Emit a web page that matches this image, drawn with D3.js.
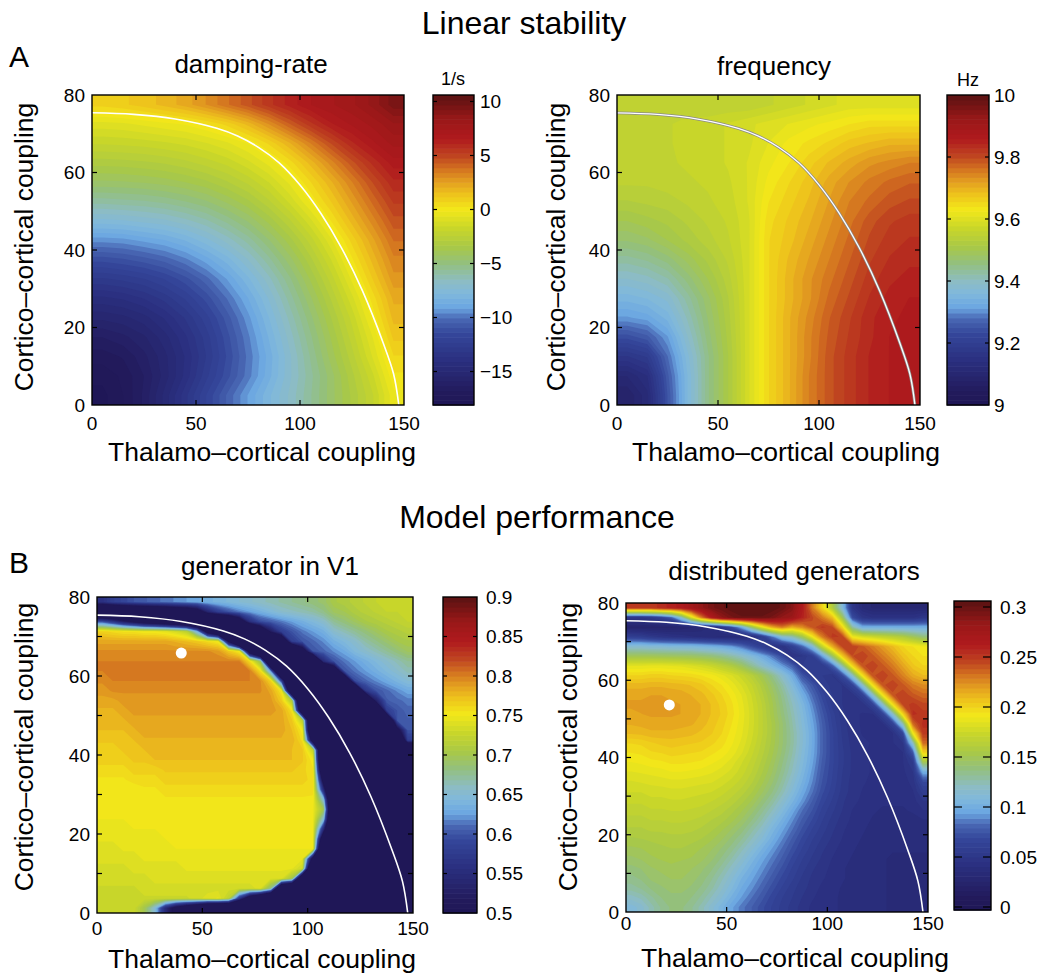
<!DOCTYPE html>
<html>
<head>
<meta charset="utf-8">
<title>Linear stability / Model performance</title>
<script src="https://cdn.jsdelivr.net/npm/d3@7/dist/d3.min.js"></script>
<style>
body { margin: 0; background: #fff; }
svg text { font-family: "Liberation Sans", Arial, Helvetica, sans-serif; fill: #000; }
</style>
</head>
<body>
<script>

// grid cell centres, thalamo-cortical (x) and cortico-cortical (y, top row first)
var thalamoCentres = [5, 15, 25, 35, 45, 55, 65, 75, 85, 95, 105, 115, 125, 135, 145];
var thalamoCentresFine = [2.5, 7.5, 12.5, 17.5, 22.5, 27.5, 32.5, 37.5, 42.5, 47.5, 52.5, 57.5, 62.5, 67.5, 72.5,
                          77.5, 82.5, 87.5, 92.5, 97.5, 102.5, 107.5, 112.5, 117.5, 122.5, 127.5, 132.5, 137.5, 142.5, 147.5];
var corticoCentresA = [77.5, 72.5, 67.5, 62.5, 57.5, 52.5, 47.5, 42.5, 37.5, 32.5, 27.5, 22.5, 17.5, 12.5, 7.5, 2.5];
var corticoCentresB = [78.75, 76.25, 73.75, 71.25, 68.75, 66.25, 63.75, 61.25, 58.75, 56.25, 53.75, 51.25,
                       48.75, 46.25, 43.75, 41.25, 38.75, 36.25, 33.75, 31.25, 28.75, 26.25, 23.75, 21.25,
                       18.75, 16.25, 13.75, 11.25, 8.75, 6.25, 3.75, 1.25];

// damping rate (1/s)
var dampingRate = [
  [0.9, 1.1, 1.4, 1.8, 2.3, 3.0, 3.8, 4.6, 5.5, 6.3, 7.0, 7.4, 7.8, 8.5, 9.5],
  [-0.8, -0.7, -0.5, -0.3, -0.1, 0.3, 0.9, 1.8, 3.0, 4.3, 5.5, 6.5, 7.1, 7.6, 8.3],
  [-1.9, -1.85, -1.75, -1.6, -1.4, -1.1, -0.7, -0.15, 0.8, 2.0, 3.4, 4.8, 6.0, 6.9, 7.6],
  [-3.1, -3.05, -2.95, -2.8, -2.55, -2.2, -1.8, -1.2, -0.45, 0.5, 1.8, 3.2, 4.6, 5.8, 6.8],
  [-4.3, -4.25, -4.15, -4.0, -3.75, -3.4, -2.9, -2.3, -1.5, -0.5, 0.7, 2.0, 3.4, 4.8, 6.0],
  [-5.8, -5.7, -5.6, -5.4, -5.1, -4.7, -4.1, -3.4, -2.5, -1.4, -0.1, 1.2, 2.6, 4.0, 5.3],
  [-7.5, -7.4, -7.2, -7.0, -6.6, -6.1, -5.4, -4.6, -3.6, -2.5, -1.2, 0.3, 1.8, 3.2, 4.6],
  [-9.4, -9.3, -9.0, -8.7, -8.2, -7.5, -6.7, -5.8, -4.7, -3.5, -2.2, -0.7, 0.9, 2.4, 3.9],
  [-11.2, -11.0, -10.7, -10.3, -9.7, -8.9, -8.0, -6.9, -5.7, -4.4, -3.0, -1.5, 0.2, 1.8, 3.3],
  [-12.8, -12.6, -12.3, -11.8, -11.1, -10.2, -9.1, -7.9, -6.6, -5.2, -3.7, -2.2, -0.5, 1.2, 2.8],
  [-14.2, -14.0, -13.6, -13.0, -12.2, -11.2, -10.0, -8.7, -7.3, -5.8, -4.3, -2.8, -1.2, 0.5, 2.2],
  [-15.3, -15.1, -14.7, -14.0, -13.1, -12.0, -10.7, -9.3, -7.8, -6.3, -4.8, -3.3, -1.8, 0.0, 1.8],
  [-16.3, -16.0, -15.5, -14.7, -13.7, -12.5, -11.1, -9.7, -8.2, -6.7, -5.2, -3.7, -2.2, -0.6, 1.3],
  [-17.0, -16.7, -16.0, -15.1, -14.0, -12.7, -11.3, -9.9, -8.5, -7.0, -5.5, -4.0, -2.6, -1.0, 0.7],
  [-17.5, -17.1, -16.3, -15.2, -13.9, -12.4, -11.1, -9.8, -8.4, -7.0, -5.7, -4.4, -3.0, -1.6, 0.2],
  [-17.8, -17.2, -16.2, -14.8, -13.3, -11.8, -10.4, -9.1, -7.9, -6.8, -5.6, -4.4, -3.2, -2.0, -0.3]
];

// frequency (Hz)
var frequencyHz = [
  [9.55, 9.55, 9.55, 9.55, 9.55, 9.55, 9.55, 9.56, 9.57, 9.58, 9.59, 9.6, 9.6, 9.6, 9.6],
  [9.56, 9.56, 9.56, 9.57, 9.57, 9.58, 9.59, 9.6, 9.61, 9.62, 9.63, 9.64, 9.65, 9.65, 9.65],
  [9.56, 9.56, 9.56, 9.57, 9.57, 9.58, 9.59, 9.61, 9.63, 9.645, 9.66, 9.68, 9.69, 9.7, 9.7],
  [9.56, 9.56, 9.56, 9.565, 9.57, 9.58, 9.595, 9.62, 9.64, 9.665, 9.69, 9.71, 9.73, 9.74, 9.75],
  [9.55, 9.55, 9.555, 9.56, 9.565, 9.575, 9.595, 9.63, 9.655, 9.68, 9.71, 9.735, 9.755, 9.77, 9.78],
  [9.53, 9.535, 9.54, 9.55, 9.56, 9.57, 9.595, 9.64, 9.665, 9.69, 9.72, 9.75, 9.77, 9.79, 9.8],
  [9.5, 9.51, 9.52, 9.535, 9.55, 9.565, 9.59, 9.65, 9.675, 9.7, 9.73, 9.76, 9.79, 9.81, 9.82],
  [9.47, 9.48, 9.5, 9.52, 9.54, 9.56, 9.59, 9.655, 9.68, 9.71, 9.74, 9.77, 9.8, 9.82, 9.83],
  [9.43, 9.44, 9.46, 9.49, 9.52, 9.55, 9.59, 9.655, 9.69, 9.72, 9.75, 9.78, 9.81, 9.83, 9.84],
  [9.39, 9.4, 9.42, 9.46, 9.5, 9.54, 9.59, 9.655, 9.695, 9.73, 9.76, 9.79, 9.82, 9.84, 9.85],
  [9.35, 9.36, 9.38, 9.43, 9.48, 9.53, 9.59, 9.655, 9.695, 9.73, 9.77, 9.8, 9.83, 9.85, 9.86],
  [9.31, 9.32, 9.35, 9.41, 9.47, 9.525, 9.59, 9.655, 9.7, 9.74, 9.78, 9.81, 9.84, 9.855, 9.865],
  [9.24, 9.26, 9.31, 9.39, 9.46, 9.52, 9.59, 9.655, 9.7, 9.745, 9.785, 9.815, 9.84, 9.86, 9.87],
  [9.17, 9.19, 9.28, 9.37, 9.45, 9.515, 9.59, 9.655, 9.7, 9.745, 9.79, 9.82, 9.845, 9.86, 9.87],
  [9.11, 9.14, 9.26, 9.36, 9.45, 9.515, 9.59, 9.655, 9.7, 9.75, 9.79, 9.82, 9.845, 9.86, 9.87],
  [9.08, 9.12, 9.25, 9.36, 9.45, 9.515, 9.59, 9.655, 9.7, 9.75, 9.79, 9.82, 9.845, 9.86, 9.87]
];

// model performance, generator in V1 (fine grid, 30 columns)
var perfV1 = [
  [0.56, 0.58, 0.59, 0.6, 0.605, 0.61, 0.615, 0.62, 0.625, 0.63, 0.635, 0.64, 0.645, 0.65, 0.655, 0.66, 0.665, 0.67, 0.675, 0.68, 0.685, 0.69, 0.705, 0.71, 0.715, 0.72, 0.725, 0.725, 0.73, 0.73],
  [0.34, 0.35, 0.36, 0.37, 0.38, 0.39, 0.4, 0.42, 0.43, 0.46, 0.54, 0.58, 0.6, 0.615, 0.625, 0.635, 0.645, 0.655, 0.66, 0.665, 0.67, 0.68, 0.695, 0.7, 0.71, 0.715, 0.72, 0.725, 0.725, 0.73],
  [0.6, 0.57, 0.53, 0.5, 0.47, 0.45, 0.43, 0.41, 0.38, 0.34, 0.3, 0.3, 0.35, 0.44, 0.555, 0.595, 0.605, 0.615, 0.625, 0.635, 0.645, 0.655, 0.675, 0.685, 0.695, 0.705, 0.71, 0.715, 0.72, 0.725],
  [0.765, 0.76, 0.755, 0.755, 0.75, 0.75, 0.745, 0.735, 0.72, 0.64, 0.47, 0.38, 0.3, 0.3, 0.3, 0.4, 0.52, 0.58, 0.6, 0.615, 0.625, 0.635, 0.655, 0.665, 0.675, 0.685, 0.695, 0.705, 0.71, 0.715],
  [0.785, 0.785, 0.785, 0.785, 0.785, 0.785, 0.785, 0.78, 0.775, 0.77, 0.76, 0.75, 0.5, 0.3, 0.3, 0.3, 0.3, 0.39, 0.58, 0.6, 0.61, 0.62, 0.635, 0.645, 0.655, 0.67, 0.68, 0.69, 0.7, 0.705],
  [0.795, 0.795, 0.795, 0.795, 0.795, 0.795, 0.795, 0.795, 0.795, 0.795, 0.795, 0.79, 0.77, 0.75, 0.45, 0.3, 0.3, 0.3, 0.3, 0.45, 0.6, 0.61, 0.62, 0.63, 0.645, 0.655, 0.665, 0.675, 0.685, 0.695],
  [0.8, 0.8, 0.8, 0.8, 0.8, 0.8, 0.8, 0.8, 0.8, 0.8, 0.8, 0.8, 0.8, 0.8, 0.76, 0.69, 0.3, 0.3, 0.3, 0.3, 0.3, 0.55, 0.6, 0.615, 0.625, 0.635, 0.645, 0.655, 0.665, 0.675],
  [0.8, 0.8, 0.8, 0.8, 0.8, 0.8, 0.8, 0.8, 0.8, 0.8, 0.8, 0.8, 0.8, 0.8, 0.8, 0.76, 0.62, 0.3, 0.3, 0.3, 0.3, 0.3, 0.41, 0.6, 0.615, 0.625, 0.635, 0.645, 0.655, 0.665],
  [0.795, 0.8, 0.8, 0.8, 0.8, 0.8, 0.8, 0.8, 0.8, 0.8, 0.8, 0.8, 0.8, 0.8, 0.8, 0.795, 0.765, 0.59, 0.3, 0.3, 0.3, 0.3, 0.3, 0.37, 0.595, 0.61, 0.62, 0.63, 0.64, 0.65],
  [0.79, 0.795, 0.795, 0.795, 0.795, 0.795, 0.795, 0.795, 0.795, 0.795, 0.795, 0.795, 0.795, 0.795, 0.795, 0.795, 0.785, 0.755, 0.37, 0.3, 0.3, 0.3, 0.3, 0.3, 0.33, 0.57, 0.6, 0.61, 0.62, 0.63],
  [0.785, 0.785, 0.79, 0.79, 0.79, 0.79, 0.79, 0.79, 0.79, 0.79, 0.79, 0.79, 0.79, 0.79, 0.79, 0.79, 0.79, 0.77, 0.71, 0.3, 0.3, 0.3, 0.3, 0.3, 0.3, 0.3, 0.53, 0.605, 0.61, 0.615],
  [0.78, 0.78, 0.785, 0.79, 0.79, 0.79, 0.79, 0.79, 0.79, 0.79, 0.79, 0.79, 0.79, 0.79, 0.79, 0.79, 0.79, 0.785, 0.758, 0.39, 0.3, 0.3, 0.3, 0.3, 0.3, 0.3, 0.3, 0.58, 0.6, 0.61],
  [0.78, 0.78, 0.78, 0.785, 0.785, 0.785, 0.785, 0.785, 0.785, 0.785, 0.785, 0.785, 0.785, 0.785, 0.785, 0.785, 0.785, 0.785, 0.77, 0.72, 0.3, 0.3, 0.3, 0.3, 0.3, 0.3, 0.3, 0.36, 0.6, 0.605],
  [0.775, 0.775, 0.775, 0.78, 0.785, 0.785, 0.785, 0.785, 0.785, 0.785, 0.785, 0.785, 0.785, 0.785, 0.785, 0.785, 0.785, 0.785, 0.775, 0.752, 0.3, 0.3, 0.3, 0.3, 0.3, 0.3, 0.3, 0.3, 0.48, 0.6],
  [0.77, 0.77, 0.77, 0.775, 0.78, 0.78, 0.78, 0.78, 0.78, 0.78, 0.78, 0.78, 0.78, 0.78, 0.78, 0.78, 0.78, 0.78, 0.78, 0.76, 0.45, 0.3, 0.3, 0.3, 0.3, 0.3, 0.3, 0.3, 0.3, 0.58],
  [0.765, 0.765, 0.77, 0.77, 0.775, 0.775, 0.775, 0.775, 0.775, 0.775, 0.775, 0.775, 0.775, 0.775, 0.775, 0.775, 0.775, 0.775, 0.775, 0.77, 0.725, 0.3, 0.3, 0.3, 0.3, 0.3, 0.3, 0.3, 0.3, 0.33],
  [0.765, 0.765, 0.765, 0.77, 0.77, 0.775, 0.775, 0.775, 0.775, 0.775, 0.775, 0.775, 0.775, 0.775, 0.775, 0.775, 0.775, 0.775, 0.775, 0.77, 0.752, 0.3, 0.3, 0.3, 0.3, 0.3, 0.3, 0.3, 0.3, 0.3],
  [0.76, 0.76, 0.76, 0.765, 0.765, 0.765, 0.77, 0.77, 0.77, 0.77, 0.77, 0.77, 0.77, 0.77, 0.77, 0.77, 0.77, 0.77, 0.77, 0.765, 0.757, 0.37, 0.3, 0.3, 0.3, 0.3, 0.3, 0.3, 0.3, 0.3],
  [0.755, 0.755, 0.755, 0.76, 0.76, 0.76, 0.765, 0.765, 0.765, 0.765, 0.765, 0.765, 0.765, 0.765, 0.765, 0.765, 0.765, 0.765, 0.765, 0.765, 0.76, 0.47, 0.3, 0.3, 0.3, 0.3, 0.3, 0.3, 0.3, 0.3],
  [0.75, 0.75, 0.75, 0.75, 0.755, 0.755, 0.76, 0.76, 0.76, 0.76, 0.76, 0.76, 0.76, 0.76, 0.76, 0.76, 0.76, 0.76, 0.76, 0.76, 0.758, 0.55, 0.3, 0.3, 0.3, 0.3, 0.3, 0.3, 0.3, 0.3],
  [0.75, 0.75, 0.75, 0.75, 0.75, 0.755, 0.755, 0.755, 0.755, 0.755, 0.755, 0.755, 0.755, 0.755, 0.755, 0.755, 0.755, 0.755, 0.755, 0.755, 0.755, 0.65, 0.3, 0.3, 0.3, 0.3, 0.3, 0.3, 0.3, 0.3],
  [0.75, 0.75, 0.75, 0.75, 0.75, 0.75, 0.75, 0.75, 0.75, 0.75, 0.75, 0.75, 0.75, 0.75, 0.75, 0.75, 0.75, 0.75, 0.75, 0.75, 0.75, 0.7, 0.3, 0.3, 0.3, 0.3, 0.3, 0.3, 0.3, 0.3],
  [0.75, 0.75, 0.75, 0.75, 0.75, 0.75, 0.75, 0.75, 0.75, 0.75, 0.75, 0.75, 0.75, 0.75, 0.75, 0.75, 0.75, 0.75, 0.75, 0.75, 0.75, 0.65, 0.3, 0.3, 0.3, 0.3, 0.3, 0.3, 0.3, 0.3],
  [0.745, 0.745, 0.745, 0.75, 0.75, 0.75, 0.75, 0.75, 0.75, 0.75, 0.75, 0.75, 0.75, 0.75, 0.75, 0.75, 0.75, 0.75, 0.75, 0.75, 0.75, 0.55, 0.3, 0.3, 0.3, 0.3, 0.3, 0.3, 0.3, 0.3],
  [0.745, 0.745, 0.745, 0.745, 0.745, 0.745, 0.75, 0.75, 0.75, 0.75, 0.75, 0.75, 0.75, 0.75, 0.75, 0.75, 0.75, 0.75, 0.75, 0.75, 0.75, 0.42, 0.3, 0.3, 0.3, 0.3, 0.3, 0.3, 0.3, 0.3],
  [0.74, 0.74, 0.745, 0.745, 0.745, 0.745, 0.745, 0.75, 0.75, 0.75, 0.75, 0.75, 0.75, 0.75, 0.75, 0.75, 0.75, 0.75, 0.75, 0.75, 0.75, 0.3, 0.3, 0.3, 0.3, 0.3, 0.3, 0.3, 0.3, 0.3],
  [0.74, 0.74, 0.74, 0.74, 0.745, 0.745, 0.745, 0.745, 0.745, 0.745, 0.745, 0.745, 0.745, 0.745, 0.745, 0.745, 0.745, 0.745, 0.745, 0.745, 0.47, 0.3, 0.3, 0.3, 0.3, 0.3, 0.3, 0.3, 0.3, 0.3],
  [0.735, 0.735, 0.735, 0.74, 0.74, 0.74, 0.74, 0.74, 0.745, 0.745, 0.745, 0.745, 0.745, 0.745, 0.745, 0.745, 0.745, 0.745, 0.745, 0.73, 0.3, 0.3, 0.3, 0.3, 0.3, 0.3, 0.3, 0.3, 0.3, 0.3],
  [0.735, 0.735, 0.735, 0.735, 0.735, 0.74, 0.74, 0.74, 0.74, 0.74, 0.74, 0.74, 0.74, 0.74, 0.74, 0.74, 0.74, 0.74, 0.7, 0.36, 0.3, 0.3, 0.3, 0.3, 0.3, 0.3, 0.3, 0.3, 0.3, 0.3],
  [0.73, 0.73, 0.73, 0.73, 0.735, 0.735, 0.735, 0.735, 0.735, 0.735, 0.735, 0.735, 0.735, 0.735, 0.735, 0.74, 0.68, 0.35, 0.3, 0.3, 0.3, 0.3, 0.3, 0.3, 0.3, 0.3, 0.3, 0.3, 0.3, 0.3],
  [0.73, 0.73, 0.73, 0.73, 0.73, 0.73, 0.73, 0.73, 0.73, 0.735, 0.74, 0.745, 0.72, 0.57, 0.45, 0.37, 0.3, 0.3, 0.3, 0.3, 0.3, 0.3, 0.3, 0.3, 0.3, 0.3, 0.3, 0.3, 0.3, 0.3],
  [0.73, 0.73, 0.73, 0.73, 0.7, 0.65, 0.55, 0.48, 0.43, 0.38, 0.32, 0.3, 0.3, 0.3, 0.3, 0.3, 0.3, 0.3, 0.3, 0.3, 0.3, 0.3, 0.3, 0.3, 0.3, 0.3, 0.3, 0.3, 0.3, 0.3]
];

// model performance, distributed generators (fine grid, 30 columns)
var perfDistributed = [
  [0.25, 0.25, 0.25, 0.255, 0.26, 0.265, 0.275, 0.285, 0.295, 0.3, 0.305, 0.31, 0.31, 0.31, 0.305, 0.3, 0.29, 0.265, 0.23, 0.2, 0.16, 0.11, 0.05, 0.035, 0.03, 0.03, 0.03, 0.03, 0.03, 0.03],
  [0.05, 0.05, 0.055, 0.065, 0.08, 0.12, 0.18, 0.23, 0.265, 0.285, 0.295, 0.3, 0.3, 0.3, 0.295, 0.285, 0.28, 0.26, 0.245, 0.23, 0.21, 0.15, 0.07, 0.05, 0.045, 0.045, 0.045, 0.045, 0.045, 0.05],
  [0.025, 0.025, 0.025, 0.025, 0.025, 0.027, 0.03, 0.033, 0.038, 0.05, 0.07, 0.1, 0.145, 0.185, 0.215, 0.23, 0.215, 0.225, 0.24, 0.25, 0.245, 0.2, 0.13, 0.1, 0.1, 0.1, 0.1, 0.1, 0.1, 0.1],
  [0.06, 0.058, 0.052, 0.049, 0.046, 0.044, 0.041, 0.039, 0.036, 0.035, 0.035, 0.036, 0.039, 0.055, 0.085, 0.115, 0.125, 0.15, 0.19, 0.23, 0.25, 0.247, 0.19, 0.18, 0.175, 0.17, 0.165, 0.16, 0.15, 0.14],
  [0.115, 0.115, 0.113, 0.112, 0.11, 0.109, 0.108, 0.105, 0.102, 0.098, 0.093, 0.084, 0.071, 0.059, 0.046, 0.045, 0.06, 0.08, 0.11, 0.17, 0.215, 0.245, 0.248, 0.24, 0.23, 0.22, 0.21, 0.2, 0.195, 0.19],
  [0.15, 0.15, 0.15, 0.149, 0.148, 0.147, 0.146, 0.143, 0.14, 0.135, 0.128, 0.12, 0.11, 0.099, 0.086, 0.07, 0.045, 0.05, 0.06, 0.095, 0.145, 0.205, 0.243, 0.247, 0.24, 0.23, 0.22, 0.208, 0.2, 0.195],
  [0.185, 0.185, 0.186, 0.186, 0.185, 0.184, 0.181, 0.178, 0.173, 0.166, 0.159, 0.148, 0.133, 0.119, 0.106, 0.093, 0.08, 0.055, 0.055, 0.055, 0.078, 0.13, 0.2, 0.242, 0.247, 0.24, 0.23, 0.218, 0.206, 0.2],
  [0.2, 0.2, 0.202, 0.202, 0.2, 0.199, 0.198, 0.195, 0.192, 0.187, 0.181, 0.173, 0.163, 0.151, 0.136, 0.118, 0.1, 0.075, 0.06, 0.055, 0.05, 0.07, 0.12, 0.195, 0.242, 0.247, 0.24, 0.228, 0.216, 0.21],
  [0.212, 0.212, 0.213, 0.213, 0.212, 0.211, 0.209, 0.206, 0.2, 0.195, 0.188, 0.18, 0.171, 0.159, 0.145, 0.129, 0.11, 0.09, 0.075, 0.06, 0.052, 0.05, 0.065, 0.118, 0.195, 0.242, 0.247, 0.24, 0.23, 0.225],
  [0.218, 0.218, 0.219, 0.219, 0.218, 0.217, 0.214, 0.211, 0.206, 0.2, 0.193, 0.185, 0.175, 0.163, 0.15, 0.135, 0.118, 0.1, 0.083, 0.067, 0.055, 0.05, 0.048, 0.063, 0.118, 0.195, 0.242, 0.247, 0.24, 0.235],
  [0.22, 0.22, 0.221, 0.221, 0.22, 0.219, 0.217, 0.214, 0.209, 0.203, 0.196, 0.187, 0.177, 0.166, 0.153, 0.138, 0.123, 0.107, 0.089, 0.072, 0.058, 0.05, 0.048, 0.047, 0.063, 0.118, 0.195, 0.245, 0.25, 0.245],
  [0.218, 0.219, 0.22, 0.22, 0.22, 0.219, 0.217, 0.214, 0.209, 0.204, 0.197, 0.188, 0.178, 0.167, 0.154, 0.14, 0.126, 0.11, 0.093, 0.076, 0.062, 0.052, 0.046, 0.045, 0.045, 0.063, 0.118, 0.2, 0.255, 0.25],
  [0.215, 0.216, 0.217, 0.217, 0.217, 0.216, 0.215, 0.212, 0.207, 0.202, 0.195, 0.187, 0.178, 0.167, 0.156, 0.143, 0.128, 0.112, 0.096, 0.079, 0.064, 0.053, 0.046, 0.045, 0.045, 0.045, 0.063, 0.125, 0.235, 0.255],
  [0.21, 0.211, 0.213, 0.213, 0.213, 0.212, 0.211, 0.208, 0.205, 0.2, 0.193, 0.186, 0.177, 0.167, 0.156, 0.143, 0.13, 0.114, 0.098, 0.08, 0.066, 0.054, 0.047, 0.045, 0.045, 0.045, 0.045, 0.066, 0.19, 0.25],
  [0.2, 0.201, 0.204, 0.206, 0.207, 0.206, 0.205, 0.204, 0.201, 0.197, 0.191, 0.184, 0.175, 0.165, 0.155, 0.143, 0.13, 0.114, 0.098, 0.08, 0.066, 0.055, 0.048, 0.046, 0.045, 0.045, 0.045, 0.05, 0.12, 0.235],
  [0.195, 0.196, 0.199, 0.2, 0.202, 0.201, 0.2, 0.199, 0.196, 0.193, 0.188, 0.181, 0.172, 0.163, 0.153, 0.141, 0.128, 0.112, 0.097, 0.08, 0.066, 0.056, 0.049, 0.046, 0.044, 0.044, 0.044, 0.045, 0.075, 0.2],
  [0.19, 0.191, 0.193, 0.194, 0.196, 0.196, 0.195, 0.194, 0.191, 0.188, 0.183, 0.176, 0.169, 0.16, 0.15, 0.138, 0.125, 0.11, 0.095, 0.078, 0.066, 0.056, 0.049, 0.046, 0.045, 0.045, 0.045, 0.045, 0.055, 0.15],
  [0.185, 0.186, 0.187, 0.188, 0.19, 0.19, 0.189, 0.188, 0.186, 0.183, 0.179, 0.173, 0.166, 0.157, 0.147, 0.135, 0.122, 0.107, 0.092, 0.076, 0.065, 0.055, 0.049, 0.046, 0.045, 0.044, 0.044, 0.044, 0.05, 0.1],
  [0.18, 0.181, 0.182, 0.183, 0.184, 0.184, 0.183, 0.182, 0.181, 0.178, 0.174, 0.169, 0.162, 0.153, 0.143, 0.131, 0.117, 0.103, 0.089, 0.074, 0.064, 0.054, 0.048, 0.046, 0.044, 0.043, 0.043, 0.043, 0.047, 0.07],
  [0.176, 0.176, 0.178, 0.178, 0.179, 0.179, 0.178, 0.177, 0.176, 0.173, 0.169, 0.164, 0.157, 0.148, 0.138, 0.126, 0.112, 0.098, 0.085, 0.071, 0.062, 0.053, 0.048, 0.045, 0.043, 0.042, 0.042, 0.043, 0.045, 0.058],
  [0.172, 0.172, 0.174, 0.174, 0.175, 0.175, 0.174, 0.173, 0.171, 0.168, 0.164, 0.158, 0.151, 0.141, 0.131, 0.118, 0.105, 0.092, 0.079, 0.067, 0.059, 0.051, 0.047, 0.044, 0.042, 0.041, 0.041, 0.041, 0.043, 0.05],
  [0.168, 0.168, 0.17, 0.17, 0.171, 0.171, 0.17, 0.169, 0.166, 0.163, 0.158, 0.152, 0.144, 0.134, 0.123, 0.11, 0.097, 0.084, 0.074, 0.063, 0.056, 0.05, 0.045, 0.043, 0.041, 0.04, 0.04, 0.04, 0.041, 0.045],
  [0.164, 0.164, 0.166, 0.166, 0.167, 0.167, 0.166, 0.164, 0.161, 0.158, 0.153, 0.146, 0.137, 0.127, 0.114, 0.102, 0.09, 0.078, 0.069, 0.06, 0.053, 0.048, 0.044, 0.042, 0.04, 0.039, 0.038, 0.038, 0.039, 0.04],
  [0.16, 0.16, 0.162, 0.162, 0.163, 0.163, 0.162, 0.16, 0.157, 0.152, 0.146, 0.139, 0.129, 0.119, 0.106, 0.095, 0.084, 0.073, 0.064, 0.057, 0.051, 0.046, 0.043, 0.041, 0.039, 0.038, 0.037, 0.037, 0.037, 0.038],
  [0.155, 0.156, 0.157, 0.158, 0.159, 0.159, 0.158, 0.156, 0.152, 0.147, 0.14, 0.132, 0.122, 0.112, 0.1, 0.089, 0.078, 0.068, 0.06, 0.054, 0.049, 0.045, 0.042, 0.04, 0.038, 0.037, 0.036, 0.036, 0.036, 0.037],
  [0.15, 0.151, 0.154, 0.155, 0.156, 0.156, 0.154, 0.151, 0.147, 0.141, 0.134, 0.124, 0.114, 0.103, 0.093, 0.083, 0.073, 0.064, 0.057, 0.051, 0.047, 0.043, 0.041, 0.039, 0.038, 0.037, 0.036, 0.036, 0.036, 0.036],
  [0.145, 0.147, 0.15, 0.152, 0.153, 0.152, 0.151, 0.148, 0.143, 0.136, 0.127, 0.117, 0.106, 0.096, 0.087, 0.078, 0.068, 0.06, 0.054, 0.049, 0.045, 0.042, 0.04, 0.038, 0.037, 0.036, 0.035, 0.035, 0.035, 0.035],
  [0.14, 0.142, 0.146, 0.148, 0.15, 0.149, 0.147, 0.143, 0.138, 0.13, 0.12, 0.11, 0.1, 0.091, 0.082, 0.073, 0.064, 0.057, 0.051, 0.047, 0.044, 0.041, 0.039, 0.038, 0.037, 0.036, 0.035, 0.035, 0.035, 0.035],
  [0.135, 0.138, 0.143, 0.145, 0.147, 0.147, 0.144, 0.14, 0.133, 0.124, 0.114, 0.103, 0.095, 0.086, 0.077, 0.068, 0.061, 0.054, 0.049, 0.046, 0.043, 0.041, 0.039, 0.038, 0.037, 0.036, 0.035, 0.035, 0.035, 0.035],
  [0.13, 0.133, 0.138, 0.141, 0.144, 0.144, 0.141, 0.136, 0.129, 0.119, 0.109, 0.098, 0.09, 0.081, 0.072, 0.064, 0.057, 0.052, 0.048, 0.044, 0.042, 0.04, 0.039, 0.038, 0.037, 0.036, 0.035, 0.035, 0.035, 0.035],
  [0.12, 0.124, 0.131, 0.137, 0.14, 0.14, 0.137, 0.131, 0.122, 0.113, 0.102, 0.093, 0.084, 0.076, 0.067, 0.06, 0.055, 0.05, 0.046, 0.043, 0.041, 0.04, 0.039, 0.038, 0.037, 0.036, 0.035, 0.035, 0.035, 0.035],
  [0.11, 0.115, 0.125, 0.133, 0.138, 0.138, 0.133, 0.125, 0.115, 0.105, 0.095, 0.086, 0.079, 0.071, 0.064, 0.058, 0.053, 0.048, 0.044, 0.042, 0.041, 0.04, 0.039, 0.038, 0.037, 0.036, 0.035, 0.035, 0.035, 0.035]
];

// zero-damping boundary (white line)
var boundaryX = [0, 20, 40, 60, 70, 80, 90, 100, 110, 120, 130, 140, 145, 147.5];
var boundaryY = [75.4, 75, 73.8, 71.4, 69.4, 66.5, 62.5, 56.8, 49.5, 40.5, 29.5, 16, 8, 0];

// best fitting parameters (white dots)
var bestV1 = [40, 65.8];
var bestDistributed = [21.5, 53.6];

var xTicks = [0, 50, 100, 150];
var yTicksA = [0, 20, 40, 60, 80];
var yTicksB = [0, 10, 20, 30, 40, 50, 60, 70, 80];

var cbTicksDamping = [10, 5, 0, -5, -10, -15];
var cbTicksFreq = [10, 9.8, 9.6, 9.4, 9.2, 9];
var cbTicksV1 = [0.9, 0.85, 0.8, 0.75, 0.7, 0.65, 0.6, 0.55, 0.5];
var cbTicksDist = [0.3, 0.25, 0.2, 0.15, 0.1, 0.05, 0];

// colour map (muted jet)
var cmapStops = [0, 0.037, 0.14, 0.23, 0.28, 0.315, 0.36, 0.40, 0.46, 0.51, 0.57, 0.63, 0.68, 0.72, 0.765, 0.80, 0.86, 0.925, 1];
var cmapColors = ["#1e1656", "#221a5a", "#2a2e7e", "#34469a", "#4a68b4", "#6aa6e2", "#80b8dc", "#8cbcc4",
                  "#94c07c", "#a8c848", "#c8d62a", "#f2e81a", "#eec41c", "#e4a020", "#d27020", "#c04820",
                  "#b01a1e", "#981818", "#5a1212"];
var cmap = d3.scaleLinear().domain(cmapStops).range(cmapColors).clamp(true);
var nColors = 64;

var width = 1056, height = 979;
var svg = d3.select("body").append("svg")
            .attr("width", width)
            .attr("height", height);

function fmt(d) {
  return d < 0 ? "\u2212" + Math.abs(d) : String(d);
}

// repeat the outer rows/columns once so the iso-bands reach the frame
function padGrid(grid) {
  var rows = grid.map(function(r){ return [r[0]].concat(r, [r[r.length - 1]]); });
  return [rows[0]].concat(rows, [rows[rows.length - 1]]);
}

var panels = [
  { grid: dampingRate, cols: thalamoCentres, rows: corticoCentresA, left: 92, right: 404, top: 95, bottom: 405,
    cb: [-18.1, 10.6], cbL: 433, cbR: 474, cbT: 95, cbB: 405, cbTicks: cbTicksDamping, cbTickLen: 4, cbLabelX: 480,
    unit: "1/s", unitX: 453, unitY: 85,
    title: "damping-rate", titleX: 251, titleY: 73,
    yTicks: yTicksA, xLabY: 430, axisLabX: 262, axisLabY: 461, yLabX: 33, yLabY: 247,
    line: "plain" },
  { grid: frequencyHz, cols: thalamoCentres, rows: corticoCentresA, left: 617, right: 920, top: 95, bottom: 405,
    cb: [9, 10], cbL: 947, cbR: 989, cbT: 95, cbB: 405, cbTicks: cbTicksFreq, cbTickLen: 4, cbLabelX: 994,
    unit: "Hz", unitX: 968, unitY: 86,
    title: "frequency", titleX: 774, titleY: 75,
    yTicks: yTicksA, xLabY: 430, axisLabX: 786, axisLabY: 461, yLabX: 565, yLabY: 247,
    line: "double" },
  { grid: perfV1, cols: thalamoCentresFine, rows: corticoCentresB, left: 97, right: 413, top: 597, bottom: 913,
    cb: [0.5, 0.9], cbL: 443, cbR: 477, cbT: 597, cbB: 913, cbTicks: cbTicksV1, cbTickLen: 4, cbLabelX: 486,
    title: "generator in V1", titleX: 270, titleY: 575,
    yTicks: yTicksB, xLabY: 935, axisLabX: 262, axisLabY: 968, yLabX: 33, yLabY: 747,
    line: "plain", dot: bestV1 },
  { grid: perfDistributed, cols: thalamoCentresFine, rows: corticoCentresB, left: 626, right: 928, top: 603, bottom: 912,
    cb: [-0.003, 0.306], cbL: 954, cbR: 991, cbT: 601, cbB: 910, cbTicks: cbTicksDist, cbTickLen: 8, cbLabelX: 1000,
    title: "distributed generators", titleX: 794, titleY: 580,
    yTicks: yTicksB, xLabY: 930, axisLabX: 795, axisLabY: 967, yLabX: 577, yLabY: 747,
    line: "plain", dot: bestDistributed }
];

function drawPanel(p, pi) {
  var g = svg.append("g");
  var x = d3.scaleLinear().domain([0, 150]).range([p.left, p.right]);
  var y = d3.scaleLinear().domain([0, 80]).range([p.bottom, p.top]);

  g.append("clipPath").attr("id", "clip" + pi)
    .append("rect").attr("x", p.left).attr("y", p.top)
    .attr("width", p.right - p.left).attr("height", p.bottom - p.top);

  // heat map as filled iso-bands of the grid
  var n = p.cols.length, m = p.rows.length;
  var flat = padGrid(p.grid).flat();
  var lo = p.cb[0], hi = p.cb[1], step = (hi - lo) / nColors;
  var th = [d3.min(flat) - 10].concat(d3.range(1, nColors).map(function(k){ return lo + k * step; }));
  var bands = d3.contours().size([n + 2, m + 2]).thresholds(th)(flat);
  var cw = 150 / n, ch = 80 / m;
  var proj = d3.geoTransform({
    point: function(px, py) { this.stream.point(x((px - 1) * cw), y(80 - (py - 1) * ch)); }
  });
  var path = d3.geoPath(proj);
  g.append("g").attr("clip-path", "url(#clip" + pi + ")")
    .selectAll("path").data(bands).enter().append("path")
    .attr("d", path)
    .attr("fill", function(d, i){ return cmap((i + 0.5) / nColors); })
    .attr("stroke", "none");

  // white boundary line
  var line = d3.line()
    .x(function(d, i){ return x(boundaryX[i]); })
    .y(function(d){ return y(d); })
    .curve(d3.curveCatmullRom.alpha(0.5));
  if (p.line === "double") {
    g.append("path").attr("d", line(boundaryY)).attr("fill", "none")
      .attr("stroke", "#8a8a8a").attr("stroke-width", 2.8);
    g.append("path").attr("d", line(boundaryY)).attr("fill", "none")
      .attr("stroke", "#fff").attr("stroke-width", 1.3);
  } else {
    g.append("path").attr("d", line(boundaryY)).attr("fill", "none")
      .attr("stroke", "#fff").attr("stroke-width", 1.6);
  }

  if (p.dot) {
    g.append("circle").attr("cx", x(p.dot[0])).attr("cy", y(p.dot[1]))
      .attr("r", 5.5).attr("fill", "#fff");
  }

  // frame and inward ticks on all sides
  g.append("rect").attr("x", p.left).attr("y", p.top)
    .attr("width", p.right - p.left).attr("height", p.bottom - p.top)
    .attr("fill", "none").attr("stroke", "#000").attr("stroke-width", 1.4);
  var tl = 5;
  xTicks.slice(1, -1).forEach(function(t){
    g.append("line").attr("x1", x(t)).attr("x2", x(t)).attr("y1", p.bottom).attr("y2", p.bottom - tl).attr("stroke", "#000").attr("stroke-width", 1.2);
    g.append("line").attr("x1", x(t)).attr("x2", x(t)).attr("y1", p.top).attr("y2", p.top + tl).attr("stroke", "#000").attr("stroke-width", 1.2);
  });
  p.yTicks.slice(1, -1).forEach(function(t){
    g.append("line").attr("x1", p.left).attr("x2", p.left + tl).attr("y1", y(t)).attr("y2", y(t)).attr("stroke", "#000").attr("stroke-width", 1.2);
    g.append("line").attr("x1", p.right).attr("x2", p.right - tl).attr("y1", y(t)).attr("y2", y(t)).attr("stroke", "#000").attr("stroke-width", 1.2);
  });

  // tick labels
  g.selectAll("text.xt").data(xTicks).enter().append("text")
    .attr("x", function(d){ return x(d); }).attr("y", p.xLabY)
    .attr("text-anchor", "middle").attr("font-size", "19px")
    .text(fmt);
  g.selectAll("text.yt").data(p.yTicks.filter(function(d){ return d % 20 === 0; })).enter().append("text")
    .attr("x", p.left - 7).attr("y", function(d){ return y(d); })
    .attr("dy", "0.36em").attr("text-anchor", "end").attr("font-size", "19px")
    .text(fmt);

  // axis labels and title
  g.append("text").attr("x", p.axisLabX).attr("y", p.axisLabY)
    .attr("text-anchor", "middle").attr("font-size", "26.5px")
    .text("Thalamo\u2013cortical coupling");
  g.append("text").attr("transform", "translate(" + p.yLabX + "," + p.yLabY + ") rotate(-90)")
    .attr("text-anchor", "middle").attr("font-size", "26.5px")
    .text("Cortico\u2013cortical coupling");
  g.append("text").attr("x", p.titleX).attr("y", p.titleY)
    .attr("text-anchor", "middle").attr("font-size", "26px")
    .text(p.title);

  // colour bar
  var cy = d3.scaleLinear().domain(p.cb).range([p.cbB, p.cbT]);
  g.selectAll("rect.cb").data(d3.range(nColors)).enter().append("rect")
    .attr("x", p.cbL).attr("width", p.cbR - p.cbL)
    .attr("y", function(k){ return cy(lo + (k + 1) * step); })
    .attr("height", function(k){ return cy(lo + k * step) - cy(lo + (k + 1) * step) + 0.6; })
    .attr("fill", function(k){ return cmap((k + 0.5) / nColors); });
  g.append("rect").attr("x", p.cbL).attr("y", p.cbT)
    .attr("width", p.cbR - p.cbL).attr("height", p.cbB - p.cbT)
    .attr("fill", "none").attr("stroke", "#000").attr("stroke-width", 1.4);
  p.cbTicks.forEach(function(t){
    if (cy(t) - p.cbT < 3 || p.cbB - cy(t) < 3) return;
    g.append("line").attr("x1", p.cbL).attr("x2", p.cbL + p.cbTickLen).attr("y1", cy(t)).attr("y2", cy(t)).attr("stroke", "#000").attr("stroke-width", 1.2);
    g.append("line").attr("x1", p.cbR).attr("x2", p.cbR - p.cbTickLen).attr("y1", cy(t)).attr("y2", cy(t)).attr("stroke", "#000").attr("stroke-width", 1.2);
  });
  g.selectAll("text.cbt").data(p.cbTicks).enter().append("text")
    .attr("x", p.cbLabelX).attr("y", function(d){ return cy(d); })
    .attr("dy", "0.36em").attr("font-size", "19px")
    .text(fmt);
  if (p.unit) {
    g.append("text").attr("x", p.unitX).attr("y", p.unitY)
      .attr("text-anchor", "middle").attr("font-size", "18px").text(p.unit);
  }
}

panels.forEach(drawPanel);

// headings and panel letters
svg.append("text").attr("x", 524).attr("y", 34).attr("text-anchor", "middle")
  .attr("font-size", "32px").text("Linear stability");
svg.append("text").attr("x", 537).attr("y", 528).attr("text-anchor", "middle")
  .attr("font-size", "32px").text("Model performance");
svg.append("text").attr("x", 9).attr("y", 67).attr("font-size", "30px").text("A");
svg.append("text").attr("x", 9).attr("y", 573).attr("font-size", "30px").text("B");

</script>
</body>
</html>
